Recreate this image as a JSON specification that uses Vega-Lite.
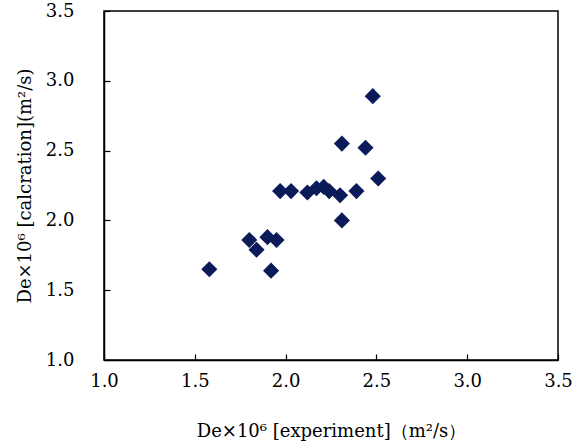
{
  "$schema": "https://vega.github.io/schema/vega-lite/v6.json",
  "autosize": "none",
  "padding": {"left": 104, "top": 11, "right": 22, "bottom": 87},
  "width": 454,
  "height": 349,
  "background": "white",
  "config": {
    "view": {"stroke": "black", "strokeWidth": 1.5},
    "font": "DejaVu Serif"
  },
  "data": {
    "values": [
      {"exp": 1.58, "calc": 1.65},
      {"exp": 1.80, "calc": 1.86},
      {"exp": 1.84, "calc": 1.79},
      {"exp": 1.90, "calc": 1.88},
      {"exp": 1.95, "calc": 1.86},
      {"exp": 1.92, "calc": 1.64},
      {"exp": 1.97, "calc": 2.21},
      {"exp": 2.03, "calc": 2.21},
      {"exp": 2.12, "calc": 2.20},
      {"exp": 2.17, "calc": 2.23},
      {"exp": 2.21, "calc": 2.24},
      {"exp": 2.24, "calc": 2.21},
      {"exp": 2.30, "calc": 2.18},
      {"exp": 2.39, "calc": 2.21},
      {"exp": 2.31, "calc": 2.00},
      {"exp": 2.31, "calc": 2.55},
      {"exp": 2.44, "calc": 2.52},
      {"exp": 2.48, "calc": 2.89},
      {"exp": 2.51, "calc": 2.30}
    ]
  },
  "mark": {"type": "point", "shape": "diamond", "filled": true, "size": 260, "color": "#0b1a58", "opacity": 1},
  "encoding": {
    "x": {
      "field": "exp", "type": "quantitative",
      "scale": {"domain": [1.0, 3.5], "nice": false, "zero": false},
      "axis": {
        "title": "De×10⁶ [experiment]（m²/s）",
        "values": [1.0, 1.5, 2.0, 2.5, 3.0, 3.5],
        "format": ".1f",
        "grid": false,
        "domainColor": "black", "domainWidth": 1.5,
        "tickColor": "black", "tickSize": -6, "tickWidth": 1.2,
        "labelPadding": 18, "labelFontSize": 18, "labelColor": "black", "labelFont": "DejaVu Serif",
        "labelOverlap": false, "labelFlush": false,
        "titleFontSize": 18, "titleFontWeight": "normal", "titleColor": "black", "titleFont": "DejaVu Serif",
        "titlePadding": 32
      }
    },
    "y": {
      "field": "calc", "type": "quantitative",
      "scale": {"domain": [1.0, 3.5], "nice": false, "zero": false},
      "axis": {
        "title": "De×10⁶ [calcration](m²/s)",
        "values": [1.0, 1.5, 2.0, 2.5, 3.0, 3.5],
        "format": ".1f",
        "grid": false,
        "domainColor": "black", "domainWidth": 1.5,
        "tickColor": "black", "tickSize": -6, "tickWidth": 1.2,
        "labelPadding": 36, "labelFontSize": 18, "labelColor": "black", "labelFont": "DejaVu Serif",
        "labelOverlap": false, "labelFlush": false,
        "titleFontSize": 18, "titleFontWeight": "normal", "titleColor": "black", "titleFont": "DejaVu Serif",
        "titlePadding": 11
      }
    }
  }
}
